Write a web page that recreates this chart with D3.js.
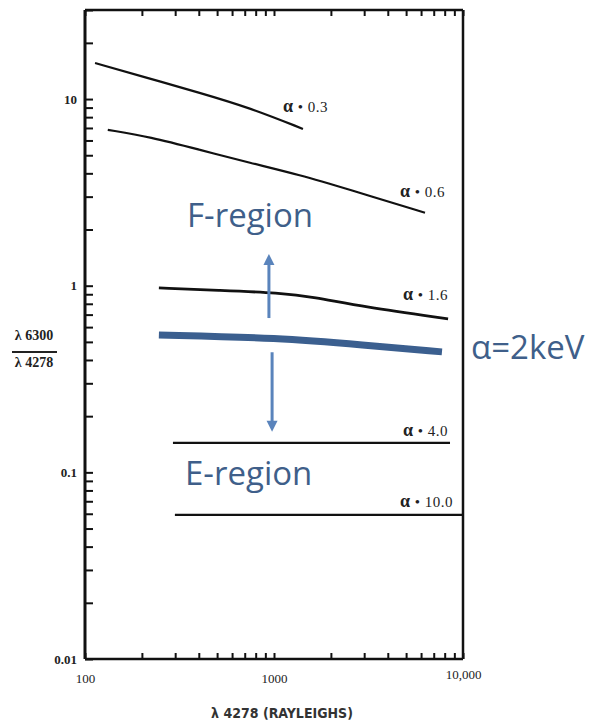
<!DOCTYPE html>
<html>
<head>
<meta charset="utf-8">
<script src="https://cdnjs.cloudflare.com/ajax/libs/d3/7.8.5/d3.min.js"></script>
<style>
body { margin: 0; background: #fff; }
svg { display: block; }
.axis text { font-family: "Liberation Serif", "DejaVu Serif", serif; font-size: 13px; fill: #222; }
.axis line { stroke: #111; stroke-width: 2; }
</style>
</head>
<body>
<svg id="chart" width="594" height="727"></svg>
<script>

// tick labels
var xTickValues = [100, 1000, 10000];
var xTickLabels = ["100", "1000", "10,000"];
var yTickValues = [0.01, 0.1, 1, 10];
var yTickLabels = ["0.01", "0.1", "1", "10"];

// curves: [λ4278 (R), λ6300/λ4278]
var alpha03 = [[113, 15.6], [213, 13.0], [406, 10.8], [747, 8.97], [1423, 6.92]];
var alpha06 = [[132, 6.84], [221, 6.27], [406, 5.34], [747, 4.55], [1373, 3.92], [2433, 3.30], [6295, 2.46]];
var alpha16 = [[246, 0.973], [518, 0.945], [1076, 0.914], [1608, 0.871], [2958, 0.770], [8337, 0.664]];
var alpha40 = [[292, 0.144], [8536, 0.144]];
var alpha100 = [[299, 0.0592], [10000, 0.0592]];
var alpha2keV = [[246, 0.545], [1076, 0.525], [2958, 0.481], [7740, 0.442]];

var curveNames = ["0.3", "0.6", "1.6", "4.0", "10.0"];

// arrows: [x, y from, y to]
var arrowUp = [940, 0.671, 1.48];
var arrowDown = [977, 0.44, 0.165];

var svg = d3.select("#chart");
svg.append("rect").attr("width", 594).attr("height", 727).attr("fill", "#fff");

var pLeft = 85, pRight = 463, pTop = 10, pBottom = 659;

var x = d3.scaleLog().domain([100, 10000]).range([pLeft, pRight]);
var y = d3.scaleLog().domain([0.01, 30]).range([pBottom, pTop]);

var line = d3.line()
    .x(function(d) { return x(d[0]); })
    .y(function(d) { return y(d[1]); })
    .curve(d3.curveBasis);

// bottom axis, ticks inward
var xAxis = d3.axisBottom(x)
    .tickValues(x.ticks())
    .tickSize(-6)
    .tickPadding(15)
    .tickFormat(function(d) {
        var i = xTickValues.indexOf(d);
        return i >= 0 ? xTickLabels[i] : "";
    });
var gx = svg.append("g").attr("class", "axis")
    .attr("transform", "translate(0," + pBottom + ")")
    .call(xAxis);
gx.select(".domain").remove();
gx.selectAll(".tick text").filter(function(d) { return d == 10000; }).attr("dy", "0.35em");

// mirrored top ticks
var gt = svg.append("g").attr("class", "axis")
    .attr("transform", "translate(0," + pTop + ")")
    .call(d3.axisTop(x).tickValues(x.ticks()).tickSize(-6).tickFormat(""));
gt.select(".domain").remove();

// left axis, ticks inward
var yAxis = d3.axisLeft(y)
    .tickValues(y.ticks())
    .tickSize(-8)
    .tickPadding(8)
    .tickFormat(function(d) {
        for (var i = 0; i < yTickValues.length; i++)
            if (Math.abs(yTickValues[i] - d) < 1e-9) return yTickLabels[i];
        return "";
    });
var gy = svg.append("g").attr("class", "axis")
    .attr("transform", "translate(" + pLeft + ",0)")
    .call(yAxis);
gy.select(".domain").remove();
gy.selectAll(".tick text").attr("font-weight", "bold");

// frame
var frame = svg.append("g").attr("stroke", "#111").attr("fill", "none");
frame.append("line").attr("x1", pLeft).attr("x2", pLeft).attr("y1", pTop).attr("y2", pBottom).attr("stroke-width", 3);
frame.append("line").attr("x1", pLeft).attr("x2", pRight).attr("y1", pBottom).attr("y2", pBottom).attr("stroke-width", 2.5);
frame.append("line").attr("x1", pLeft).attr("x2", pRight).attr("y1", pTop).attr("y2", pTop).attr("stroke-width", 2.5);
frame.append("line").attr("x1", pRight).attr("x2", pRight).attr("y1", pTop).attr("y2", pBottom).attr("stroke-width", 2.5);

// black curves
var series = [alpha03, alpha06, alpha16, alpha40, alpha100];
var widths = [2.2, 2.2, 2.8, 2.2, 2.2];
var labelOffsets = [[-20, -17], [-25, -16], [-45, -19], [-47, -7], [-63, -8]];

series.forEach(function(s, i) {
    svg.append("path")
        .datum(s)
        .attr("d", line)
        .attr("fill", "none")
        .attr("stroke", "#111")
        .attr("stroke-width", widths[i]);

    var last = s[s.length - 1];
    var t = svg.append("text")
        .attr("x", x(last[0]) + labelOffsets[i][0])
        .attr("y", y(last[1]) + labelOffsets[i][1])
        .attr("font-family", "Liberation Serif, DejaVu Serif, serif")
        .attr("font-size", 15)
        .attr("letter-spacing", 0.5)
        .attr("fill", "#222");
    t.append("tspan").attr("font-weight", "bold").attr("font-size", 18).text("α");
    t.append("tspan").text(" • " + curveNames[i]);
});

// 2 keV curve
svg.append("path")
    .datum(alpha2keV)
    .attr("d", line)
    .attr("fill", "none")
    .attr("stroke", "#3b5f8f")
    .attr("stroke-width", 7);

svg.append("text")
    .attr("x", 471).attr("y", 359)
    .attr("font-family", "Open Sans, sans-serif")
    .attr("font-size", 33)
    .attr("fill", "#3f5f8a")
    .text("α=2keV");

// arrows
function drawArrow(a) {
    var ax = x(a[0]), y0 = y(a[1]), y1 = y(a[2]);
    var dir = y1 < y0 ? -1 : 1;
    var g = svg.append("g").attr("fill", "#5a84bc").attr("stroke", "#5a84bc");
    g.append("line").attr("x1", ax).attr("x2", ax).attr("y1", y0).attr("y2", y1 - dir * 9).attr("stroke-width", 3);
    g.append("path").attr("stroke", "none")
        .attr("d", "M" + ax + "," + y1 + "L" + (ax - 5.5) + "," + (y1 - dir * 11) + "L" + (ax + 5.5) + "," + (y1 - dir * 11) + "Z");
}
drawArrow(arrowUp);
drawArrow(arrowDown);

svg.append("text").attr("x", 187).attr("y", 227)
    .attr("font-family", "Open Sans, sans-serif").attr("font-size", 33)
    .attr("fill", "#3f5f8a").text("F-region");
svg.append("text").attr("x", 185).attr("y", 485)
    .attr("font-family", "Open Sans, sans-serif").attr("font-size", 33)
    .attr("fill", "#3f5f8a").text("E-region");

// y title as a fraction
var yt = svg.append("g").attr("font-family", "Liberation Serif, DejaVu Serif, serif")
    .attr("font-size", 14).attr("font-weight", "bold").attr("fill", "#222").attr("text-anchor", "middle");
yt.append("text").attr("x", 34).attr("y", 340).text("λ 6300");
yt.append("line").attr("x1", 12).attr("x2", 57).attr("y1", 352).attr("y2", 352).attr("stroke", "#222").attr("stroke-width", 1.8);
yt.append("text").attr("x", 34).attr("y", 367).text("λ 4278");

// x title
svg.append("text").attr("x", 282).attr("y", 718)
    .attr("text-anchor", "middle")
    .attr("font-family", "Liberation Sans Narrow, DejaVu Sans Condensed, sans-serif")
    .attr("font-size", 14).attr("font-weight", "bold").attr("fill", "#333")
    .text("λ 4278 (RAYLEIGHS)");

</script>
</body>
</html>
